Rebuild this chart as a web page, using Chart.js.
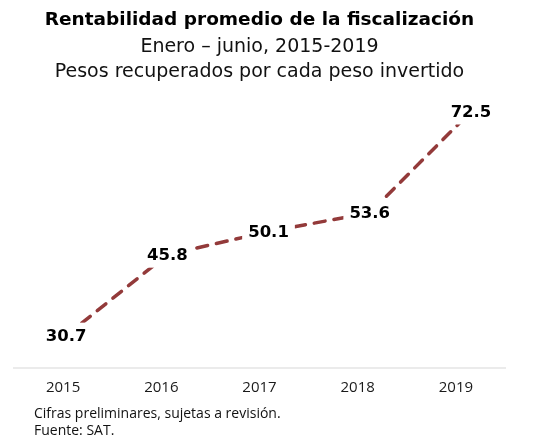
<!DOCTYPE html>
<html>
<head>
<meta charset="utf-8">
<script src="https://cdn.jsdelivr.net/npm/chart.js@4.4.1/dist/chart.umd.min.js"></script>
<style>
  body { margin: 0; background: #fff; }
  #wrap { position: relative; width: 541px; height: 447px; }
  #chart { position: absolute; left: 0; top: 0; }
  #note { position: absolute; left: 34px; top: 404px; font: 14px 'Open Sans', sans-serif; line-height: 17px; color: #111; }
</style>
</head>
<body>
<div id="wrap">
  <canvas id="chart" width="541" height="408"></canvas>
  <div id="note">Cifras preliminares, sujetas a revisión.<br>Fuente: SAT.</div>
</div>
<script>
const years = ['2015', '2016', '2017', '2018', '2019'];
const rentabilidad = [30.7, 45.8, 50.1, 53.6, 72.5];

const lineColor = '#933a3a';
const fontName = 'DejaVu Sans';

// value labels sit on the points, with a white box that cuts the dashed line
const pointLabels = {
  id: 'pointLabels',
  afterDatasetsDraw(chart) {
    const ctx = chart.ctx;
    const meta = chart.getDatasetMeta(0);
    ctx.save();
    ctx.font = 'bold 16.5px "' + fontName + '", sans-serif';
    ctx.textAlign = 'center';
    ctx.textBaseline = 'middle';
    meta.data.forEach((pt, i) => {
      const txt = rentabilidad[i].toFixed(1);
      const w = ctx.measureText(txt).width;
      ctx.fillStyle = '#fff';
      ctx.fillRect(pt.x - w / 2 - 6, pt.y - 13, w + 12, 26);
      ctx.fillStyle = '#000';
      ctx.fillText(txt, pt.x, pt.y + 1);
    });
    ctx.restore();
  }
};

const chart = new Chart(document.getElementById('chart'), {
  type: 'line',
  data: {
    labels: years,
    datasets: [{
      data: rentabilidad.map((v, i) => ({ x: i, y: v })),
      xAxisID: 'xd',
      borderColor: lineColor,
      borderWidth: 3.5,
      borderDash: [11, 9],
      borderCapStyle: 'round',
      pointRadius: 0,
      tension: 0,
    }],
  },
  options: {
    responsive: false,
    animation: false,
    layout: { padding: { left: 14, right: 36, bottom: 0 } },
    plugins: {
      legend: { display: false },
      tooltip: { enabled: false },
      title: {
        display: true,
        text: 'Rentabilidad promedio de la fiscalización',
        color: '#000',
        font: { family: fontName, size: 18.5, weight: 'bold' },
        padding: { top: 9, bottom: 3 },
      },
      subtitle: {
        display: true,
        text: ['Enero – junio, 2015-2019', 'Pesos recuperados por cada peso invertido'],
        color: '#111',
        font: { family: fontName, size: 19, lineHeight: 1.32 },
        padding: { bottom: 15 },
      },
    },
    scales: {
      x: {
        type: 'category',
        offset: true,
        grid: { display: false, drawTicks: false },
        border: { display: true, color: '#ebebeb', width: 2 },
        ticks: { color: '#1a1a1a', padding: 11, font: { family: 'Open Sans', size: 15 } },
      },
      xd: {
        type: 'linear',
        display: false,
        min: -0.514,
        max: 4.336,
      },
      y: {
        display: false,
        min: 24.67,
        max: 74.76,
      },
    },
  },
  plugins: [pointLabels],
});
</script>
</body>
</html>
